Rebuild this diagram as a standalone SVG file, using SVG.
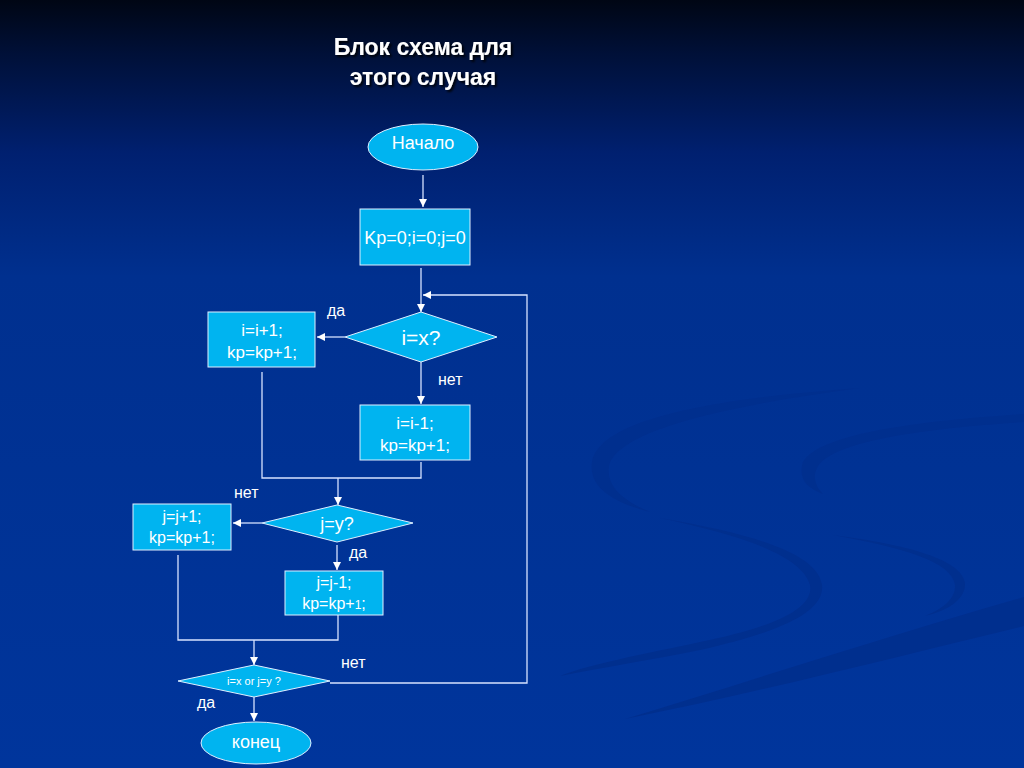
<svg xmlns="http://www.w3.org/2000/svg" width="1024" height="768" viewBox="0 0 1024 768">
<defs>
<linearGradient id="bg" x1="0" y1="0" x2="0" y2="1">
<stop offset="0" stop-color="#000614"/>
<stop offset="0.07" stop-color="#001038"/>
<stop offset="0.2" stop-color="#002070"/>
<stop offset="0.36" stop-color="#00308f"/>
<stop offset="1" stop-color="#00359c"/>
</linearGradient>
<marker id="ah" viewBox="0 0 10 10" refX="10" refY="5" markerWidth="8" markerHeight="8" markerUnits="userSpaceOnUse" orient="auto">
<path d="M0,0 L10,5 L0,10 Z" fill="#ffffff"/>
</marker>
<filter id="sh" x="-10%" y="-10%" width="130%" height="140%">
<feDropShadow dx="2" dy="2" stdDeviation="1" flood-color="#000000" flood-opacity="0.9"/>
</filter>
</defs>
<style>
.n{fill:#00b4f0;stroke:#dfefff;stroke-width:1}
.t{font-family:"Liberation Sans",Arial,sans-serif;fill:#ffffff;text-anchor:middle}
.lbl{font-family:"Liberation Sans",Arial,sans-serif;fill:#ffffff;font-size:16px}
.c{fill:none;stroke:#d6e2ff;stroke-width:1.3}
.sw{fill:#002f8e}
</style>
<rect x="0" y="0" width="1024" height="768" fill="url(#bg)"/>
<g id="swirl">
<path class="sw" d="M860,388 C720,398 600,418 592,462 C588,488 615,503 650,512 C622,500 606,486 609,466 C618,428 740,404 860,388 Z"/>
<path class="sw" d="M660,518 C740,535 802,555 810,585 C815,612 760,630 700,642 C640,655 590,664 560,676 C600,668 650,660 700,650 C780,632 825,612 822,585 C818,555 760,535 660,518 Z"/>
<path class="sw" d="M1024,414 C930,420 820,432 803,462 C798,478 806,488 823,494 C815,486 812,476 818,466 C835,440 930,428 1024,422 Z"/>
<path class="sw" d="M833,535 C905,548 952,562 955,585 C956,600 940,610 925,616 C950,610 966,598 965,583 C962,560 910,545 833,535 Z"/>
<path class="sw" d="M1024,597 C900,632 760,678 625,719 C760,692 900,656 1024,626 Z"/>
</g>
<g id="title" filter="url(#sh)">
<text class="t" x="423" y="55" font-size="23" font-weight="bold">Блок схема для</text>
<text class="t" x="423" y="85" font-size="23" font-weight="bold">этого случая</text>
</g>
<g id="connectors">
<line class="c" x1="423" y1="175" x2="423" y2="207" marker-end="url(#ah)"/>
<line class="c" x1="421" y1="268" x2="421" y2="312" marker-end="url(#ah)"/>
<polyline class="c" points="330,683 527,683 527,295 423,295" marker-end="url(#ah)"/>
<line class="c" x1="345" y1="337" x2="317" y2="337" marker-end="url(#ah)"/>
<line class="c" x1="421" y1="362" x2="421" y2="404" marker-end="url(#ah)"/>
<polyline class="c" points="262,372 262,478 421,478 421,462"/>
<line class="c" x1="338" y1="478" x2="338" y2="505" marker-end="url(#ah)"/>
<line class="c" x1="262" y1="523" x2="233" y2="523" marker-end="url(#ah)"/>
<line class="c" x1="337" y1="545" x2="337" y2="570" marker-end="url(#ah)"/>
<polyline class="c" points="178,555 178,640 338,640 338,612"/>
<line class="c" x1="254" y1="640" x2="254" y2="665" marker-end="url(#ah)"/>
<line class="c" x1="254" y1="697" x2="254" y2="721" marker-end="url(#ah)"/>
</g>
<g id="labels">
<text class="lbl" x="327" y="316">да</text>
<text class="lbl" x="438" y="385">нет</text>
<text class="lbl" x="234" y="498">нет</text>
<text class="lbl" x="349" y="558">да</text>
<text class="lbl" x="341" y="668">нет</text>
<text class="lbl" x="197" y="708">да</text>
</g>
<g id="start">
<ellipse class="n" cx="423" cy="147" rx="55" ry="23"/>
<text class="t" x="423" y="149" font-size="18">Начало</text>
</g>
<g id="init">
<rect class="n" x="360" y="209" width="110" height="56"/>
<text class="t" x="415" y="244" font-size="18">Kp=0;i=0;j=0</text>
</g>
<g id="cond1">
<polygon class="n" points="421,312 497,337 421,362 345,337"/>
<text class="t" x="421" y="345" font-size="21">i=x?</text>
</g>
<g id="inc_i">
<rect class="n" x="208" y="312" width="107" height="55"/>
<text class="t" x="262" y="336" font-size="17">i=i+1;</text>
<text class="t" x="262" y="358" font-size="17">kp=kp+1;</text>
</g>
<g id="dec_i">
<rect class="n" x="360" y="405" width="110" height="55"/>
<text class="t" x="415" y="429" font-size="17">i=i-1;</text>
<text class="t" x="415" y="451" font-size="17">kp=kp+1;</text>
</g>
<g id="cond2">
<polygon class="n" points="337,505 413,523 337,542 262,523"/>
<text class="t" x="337" y="530" font-size="18">j=y?</text>
</g>
<g id="inc_j">
<rect class="n" x="133" y="504" width="98" height="46"/>
<text class="t" x="182" y="522" font-size="16">j=j+1;</text>
<text class="t" x="182" y="543" font-size="16">kp=kp+1;</text>
</g>
<g id="dec_j">
<rect class="n" x="285" y="571" width="98" height="44"/>
<text class="t" x="334" y="588" font-size="16">j=j-1;</text>
<text class="t" x="334" y="609" font-size="16">kp=kp+<tspan font-size="12">1</tspan>;</text>
</g>
<g id="cond3">
<polygon class="n" points="254,665 330,681 254,697 178,681"/>
<text class="t" x="254" y="685" font-size="11">i=x or j=y ?</text>
</g>
<g id="end">
<ellipse class="n" cx="256" cy="743" rx="55" ry="21"/>
<text class="t" x="256" y="748" font-size="18">конец</text>
</g>
</svg>
